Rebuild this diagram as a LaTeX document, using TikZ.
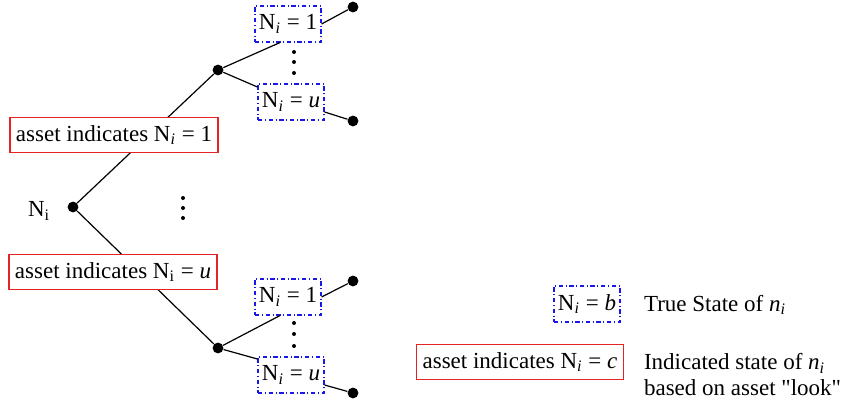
\documentclass[tikz,border=0pt]{standalone}
\usepackage{fontspec}
\setmainfont{Liberation Serif}[Ligatures=TeXOff]
\usepackage{xcolor}
\usetikzlibrary{
	positioning,
	calc,
	backgrounds
}
\definecolor{boxred}{RGB}{228,36,36}
\definecolor{boxblue}{RGB}{24,24,232}
\newcommand{\Nit}{N\textsubscript{\itshape i}}
\newcommand{\Nup}{N\textsubscript{i}}

\begin{document}
\begin{tikzpicture}[x=0.5pt,y=-0.5pt,
		font=\fontsize{11.5}{13}\selectfont,
		dot/.style={circle,fill=black,inner sep=0pt,minimum size=5.4pt},
		truebox/.style={draw=boxblue,line width=0.55pt,fill=white,
			dash pattern=on 2.2pt off 1.3pt on 0.5pt off 1.3pt,
			inner xsep=2pt,minimum height=18pt},
		assetbox/.style={draw=boxred,line width=0.6pt,fill=white,
			inner xsep=3pt,minimum height=17.5pt},
		vdots/.style={circle,fill=black,inner sep=0pt,minimum size=2pt}]
		
		\useasboundingbox (0,0) rectangle (842,407);
		
		% root
		\node[dot] (root) at (73,207) {};
		\node[left=5pt of root,yshift=-2pt] (rootlab) {\Nup};
		
		% indicated states
		\node[assetbox] (ind1) at (114,135) {asset indicates \Nit\ = 1};
		\node[assetbox] (indu) at (113,272) {asset indicates \Nup\ = \textit{u}};
		
		% upper branch
		\node[dot] (up) at (218,70) {};
		\node[truebox] (up1) at (288,24) {\Nit\ = 1};
		\node[truebox] (upu) at (291,102) {\Nit\ = \textit{u}};
		\node[dot] (up1end) at (353,7) {};
		\node[dot] (upuend) at (353,121) {};
		
		% lower branch
		\node[dot] (lo) at (218,348) {};
		\node[truebox] (lo1) at (288,297) {\Nit\ = 1};
		\node[truebox] (lou) at (291,375) {\Nit\ = \textit{u}};
		\node[dot] (lo1end) at (353,281) {};
		\node[dot] (louend) at (353,393) {};
		
		% dots
		\foreach \y [count=\k] in {198,208,218}
			\node[vdots] (mid\k) at (183,\y) {};
		\foreach \y [count=\k] in {52,62,73}
			\node[vdots] (updot\k) at (294,\y) {};
		\foreach \y [count=\k] in {323,334,346}
			\node[vdots] (lodot\k) at (294,\y) {};
		
		\begin{scope}[on background layer]
			\draw[line width=0.6pt] (root) -- (up);
			\draw[line width=0.6pt] (root) -- (lo);
		\end{scope}
		
		\draw[line width=0.6pt] (up) -- ($(up1.south)+(-8,0)$);
		\draw[line width=0.6pt] (up) -- ($(upu.west)+(0,-15)$);
		\draw[line width=0.6pt] (up1.east) -- (up1end);
		\draw[line width=0.6pt] ($(upu.east)+(0,10)$) -- (upuend);
		
		\draw[line width=0.6pt] (lo) -- ($(lo1.south)+(-8,0)$);
		\draw[line width=0.6pt] (lo) -- ($(lou.west)+(0,-16)$);
		\draw[line width=0.6pt] (lo1.east) -- (lo1end);
		\draw[line width=0.6pt] ($(lou.east)+(0,10)$) -- (louend);
		
		% legend
		\node[truebox] (keytrue) at (587,304) {\Nit\ = \textit{b}};
		\node[anchor=west] (keytruetxt) at (637,305) {True State of \textit{n}\textsubscript{\itshape i}};
		\node[assetbox] (keyind) at (520,362) {asset indicates \Nit\ = \textit{c}};
		\node[anchor=west,align=left] (keyindtxt) at (637,375)
			{Indicated state of \textit{n}\textsubscript{\itshape i}\\based on asset "look"};
		
	\end{tikzpicture}
\end{document}
